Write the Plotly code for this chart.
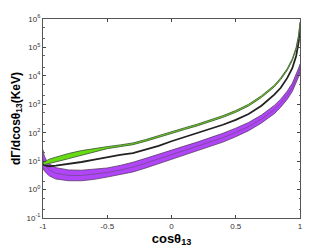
import plotly.graph_objects as go

# cos(theta_13) sample points
cos_theta = [-1.0, -0.99, -0.97, -0.95, -0.9, -0.85, -0.8, -0.7, -0.6, -0.5, -0.4, -0.3, -0.2, -0.1,
             0.0, 0.1, 0.2, 0.3, 0.4, 0.5, 0.6, 0.7, 0.8, 0.85, 0.9, 0.94, 0.97, 0.99, 1.0]

# log10 of dGamma/dcos (KeV)
green_upper_log = [0.95, 0.98, 1.03, 1.07, 1.14, 1.21, 1.27, 1.37, 1.45, 1.51, 1.57, 1.64, 1.76, 1.90,
                   2.05, 2.17, 2.30, 2.45, 2.60, 2.78, 3.00, 3.30, 3.67, 3.93, 4.25, 4.60, 5.00, 5.45, 5.90]
green_lower_log = [0.93, 0.88, 0.90, 0.92, 0.96, 1.03, 1.09, 1.21, 1.33, 1.44, 1.51, 1.58, 1.70, 1.84,
                   1.99, 2.11, 2.24, 2.39, 2.54, 2.72, 2.94, 3.24, 3.61, 3.87, 4.19, 4.54, 4.94, 5.39, 5.85]
black_log = [0.90, 0.86, 0.83, 0.82, 0.84, 0.87, 0.90, 0.97, 1.05, 1.14, 1.22, 1.28, 1.40, 1.54,
             1.70, 1.84, 1.98, 2.13, 2.28, 2.45, 2.66, 2.95, 3.34, 3.58, 3.92, 4.27, 4.70, 5.20, 5.60]
purple_upper_log = [1.40, 1.18, 1.00, 0.90, 0.77, 0.72, 0.69, 0.68, 0.71, 0.76, 0.85, 0.96, 1.10, 1.25,
                    1.40, 1.53, 1.67, 1.82, 1.98, 2.16, 2.36, 2.62, 2.96, 3.18, 3.46, 3.74, 4.03, 4.28, 4.42]
purple_lower_log = [0.78, 0.66, 0.56, 0.48, 0.37, 0.33, 0.31, 0.31, 0.36, 0.44, 0.52, 0.62, 0.76, 0.91,
                    1.06, 1.20, 1.35, 1.50, 1.67, 1.86, 2.07, 2.34, 2.67, 2.90, 3.17, 3.45, 3.74, 3.98, 4.13]

x_ticks = [-1, -0.5, 0, 0.5, 1]
x_tick_text = ["-1", "-0.5", "0", "0.5", "1"]
y_ticks = [0.1, 1, 10, 100, 1000, 1e4, 1e5, 1e6]
y_tick_text = ["10<sup>-1</sup>", "10<sup>0</sup>", "10<sup>1</sup>", "10<sup>2</sup>",
               "10<sup>3</sup>", "10<sup>4</sup>", "10<sup>5</sup>", "10<sup>6</sup>"]


def lin(vals):
    return [10 ** v for v in vals]


purple_mid_log = [(a + b) / 2 for a, b in zip(purple_upper_log, purple_lower_log)]

fig = go.Figure()

# purple band
fig.add_trace(go.Scatter(x=cos_theta, y=lin(purple_lower_log), mode="lines",
                         line=dict(color="#5a3a6a", width=0.8), hoverinfo="skip"))
fig.add_trace(go.Scatter(x=cos_theta, y=lin(purple_upper_log), mode="lines", fill="tonexty",
                         fillcolor="#b046f8", line=dict(color="#5a3a6a", width=0.8), hoverinfo="skip"))
fig.add_trace(go.Scatter(x=cos_theta, y=lin(purple_mid_log), mode="lines",
                         line=dict(color="#6a4a7a", width=0.7), hoverinfo="skip"))

# black middle curve
fig.add_trace(go.Scatter(x=cos_theta, y=lin(black_log), mode="lines",
                         line=dict(color="#222222", width=1.8), hoverinfo="skip"))

# green band
fig.add_trace(go.Scatter(x=cos_theta, y=lin(green_lower_log), mode="lines",
                         line=dict(color="#4f6e40", width=1), hoverinfo="skip"))
fig.add_trace(go.Scatter(x=cos_theta, y=lin(green_upper_log), mode="lines", fill="tonexty",
                         fillcolor="#66dd11", line=dict(color="#4f6e40", width=1), hoverinfo="skip"))

axis_font = dict(family="Liberation Sans, Arial, sans-serif", size=8, color="#333333")

# the page body has an 8px default margin, so the figure is shrunk by that much
fig.update_layout(
    width=324, height=242,
    margin=dict(l=35, r=32, t=11, b=32, autoexpand=False),
    paper_bgcolor="white", plot_bgcolor="white",
    showlegend=False,
    xaxis=dict(
        range=[-1, 1], tickvals=x_ticks, ticktext=x_tick_text, automargin=False,
        ticks="inside", ticklen=3, tickcolor="#444444", mirror="allticks",
        showline=True, linecolor="#555555", linewidth=1, showgrid=False, zeroline=False,
        tickfont=axis_font,
        title=dict(text="<b>cosθ<sub>13</sub></b>", standoff=2,
                   font=dict(family="Liberation Sans, Arial, sans-serif", size=13, color="black")),
    ),
    yaxis=dict(
        type="log", range=[-1, 6], tickvals=y_ticks, ticktext=y_tick_text, automargin=False,
        ticks="inside", ticklen=3, tickcolor="#444444", mirror="allticks",
        showline=True, linecolor="#555555", linewidth=1, showgrid=False, zeroline=False,
        tickfont=axis_font,
        minor=dict(ticks="inside", ticklen=1.5, tickcolor="#666666", showgrid=False),
        title=dict(text="<b>dΓ/dcosθ<sub>13</sub>(KeV)</b>", standoff=3,
                   font=dict(family="Liberation Sans, Arial, sans-serif", size=12, color="black")),
    ),
)

fig.write_html("out.html")
